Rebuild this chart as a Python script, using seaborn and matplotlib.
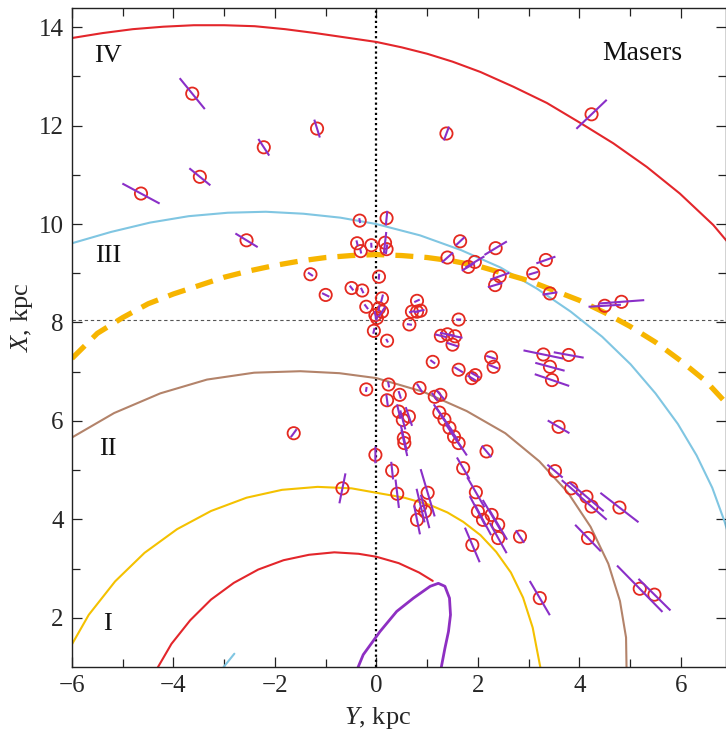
import numpy as np
import pandas as pd
import matplotlib
matplotlib.use("Agg")
import matplotlib.pyplot as plt
from matplotlib.collections import LineCollection
import seaborn as sns

# spiral arm tracings (kpc)
arm4_x = [-6.0, -5.4, -4.8, -4.2, -3.6, -3.0, -2.4, -1.8, -1.2, -0.6, 0.0, 0.5, 1.0, 1.5,
          2.05, 2.7, 3.36, 4.01, 4.67, 5.33, 5.98, 6.64, 6.95]
arm4_y = [13.78, 13.88, 13.96, 14.01, 14.04, 14.04, 14.02, 13.96, 13.88, 13.79, 13.70, 13.59, 13.46, 13.30,
          13.09, 12.79, 12.46, 12.06, 11.64, 11.16, 10.62, 9.98, 9.60]

arm3_x = [-6.0, -5.23, -4.46, -3.70, -2.93, -2.18, -1.44, -0.71, 0.0, 0.86, 1.67, 2.44, 3.16, 3.83,
          4.45, 5.01, 5.50, 5.94, 6.31, 6.62, 6.86, 6.98]
arm3_y = [9.61, 9.84, 10.03, 10.16, 10.23, 10.25, 10.21, 10.13, 10.0, 9.77, 9.47, 9.12, 8.69, 8.22,
          7.71, 7.15, 6.56, 5.94, 5.30, 4.64, 3.96, 3.55]
arm3b_x = [-3.05, -2.8]
arm3b_y = [0.95, 1.27]

local_x = [-6.0, -5.5, -5.0, -4.5, -4.0, -3.5, -3.0, -2.5, -2.0, -1.5, -1.0, -0.5, 0.0, 0.5,
           1.0, 1.5, 2.0, 2.5, 3.0, 3.5, 4.0, 4.5, 5.0, 5.5, 6.0, 6.5, 6.95]
local_y = [7.27, 7.78, 8.1, 8.38, 8.58, 8.75, 8.92, 9.05, 9.16, 9.25, 9.32, 9.36, 9.38, 9.36,
           9.32, 9.25, 9.15, 9.0, 8.85, 8.65, 8.45, 8.2, 7.92, 7.6, 7.22, 6.8, 6.3]

arm2_x = [-6.04, -5.17, -4.26, -3.34, -2.41, -1.50, -0.73, 0.0, 0.93, 1.78, 2.54, 3.21, 3.77,
          4.22, 4.57, 4.80, 4.92, 4.93]
arm2_y = [5.64, 6.16, 6.56, 6.84, 6.98, 7.01, 6.97, 6.87, 6.59, 6.20, 5.75, 5.18, 4.55,
          3.85, 3.10, 2.34, 1.60, 0.96]

arm1_x = [-6.04, -5.67, -5.15, -4.57, -3.93, -3.26, -2.56, -1.86, -1.16, -0.49, 0.0, 0.55, 1.06,
          1.40, 1.71, 2.05, 2.36, 2.65, 2.89, 3.08, 3.22, 3.24]
arm1_y = [1.39, 2.06, 2.74, 3.32, 3.80, 4.17, 4.44, 4.60, 4.66, 4.63, 4.54, 4.44, 4.29,
          4.14, 3.95, 3.68, 3.34, 2.92, 2.41, 1.80, 1.05, 0.95]

inner_x = [-4.31, -4.04, -3.67, -3.26, -2.81, -2.33, -1.83, -1.33, -0.83, -0.35, 0.0, 0.44, 0.84, 1.11]
inner_y = [0.99, 1.47, 1.95, 2.37, 2.71, 2.98, 3.17, 3.28, 3.33, 3.30, 3.24, 3.11, 2.92, 2.75]

bar_x = [-0.38, -0.26, 0.07, 0.40, 0.73, 1.06, 1.22, 1.35, 1.44, 1.46, 1.42, 1.35, 1.27]
bar_y = [0.95, 1.25, 1.72, 2.13, 2.40, 2.64, 2.70, 2.64, 2.40, 2.06, 1.72, 1.38, 0.95]

# masers: position (kpc) and half-length of the distance error along the line of sight
maser_x = [-3.63, -1.17, -2.22, -3.48, -4.64, -2.56, 1.38, 4.24, -1.63, -0.67,
           -0.33, 0.20, -0.38, -0.31, -0.10, 0.17, 0.20, 0.05, -1.30, -1.00,
           -0.49, -0.28, -0.20, 0.11, 0.05, -0.02, 0.11, 0.01, -0.05, 0.21,
           0.80, 0.70, 0.87, 0.80, 0.65, 1.40, 1.65, 1.62, 1.27, 1.40,
           1.55, 1.50, 1.11, 1.94, 1.81, 2.35, 2.43, 2.34, 3.34, 3.09,
           3.42, 4.50, 4.83, 2.26, 2.31, 1.62, 1.88, 1.95, 3.29, 3.79,
           3.42, 3.46, 3.59, -0.20, 0.24, 0.46, 0.21, 0.44, 0.64, 0.52,
           0.54, 0.55, -0.02, 0.31, 0.85, 1.15, 1.26, 1.24, 1.34, 1.44,
           1.53, 1.62, 2.17, 1.71, 1.96, 2.00, 2.10, 2.27, 2.40, 2.40,
           2.83, 1.89, 3.22, 3.52, 3.84, 4.14, 4.24, 4.79, 4.17, 5.19,
           5.48, 0.41, 1.01, 0.87, 0.96, 0.80]
maser_y = [12.65, 11.94, 11.56, 10.96, 10.62, 9.67, 11.84, 12.23, 5.75, 4.63,
           10.07, 10.12, 9.61, 9.45, 9.57, 9.62, 9.49, 8.93, 8.98, 8.56,
           8.70, 8.65, 8.32, 8.49, 8.29, 8.15, 8.22, 8.09, 7.83, 7.63,
           8.44, 8.22, 8.24, 8.22, 7.96, 9.32, 9.65, 8.06, 7.73, 7.76,
           7.72, 7.55, 7.20, 9.23, 9.13, 9.51, 8.94, 8.76, 9.27, 9.00,
           8.59, 8.34, 8.42, 7.29, 7.10, 7.04, 6.87, 6.93, 7.35, 7.34,
           7.10, 6.83, 5.88, 6.64, 6.74, 6.53, 6.42, 6.19, 6.09, 6.02,
           5.65, 5.55, 5.31, 4.99, 6.67, 6.49, 6.53, 6.17, 6.03, 5.86,
           5.68, 5.55, 5.38, 5.04, 4.55, 4.16, 3.99, 4.09, 3.89, 3.62,
           3.65, 3.48, 2.40, 4.98, 4.63, 4.46, 4.26, 4.24, 3.62, 2.59,
           2.47, 4.52, 4.54, 4.28, 4.16, 3.99]
maser_err = [0.40, 0.19, 0.20, 0.27, 0.42, 0.26, 0.15, 0.42, 0.10, 0.31,
             0.05, 0.15, 0.06, 0.05, 0.05, 0.22, 0.10, 0.06, 0.06, 0.08,
             0.06, 0.06, 0.06, 0.08, 0.06, 0.08, 0.12, 0.05, 0.06, 0.04,
             0.06, 0.06, 0.08, 0.06, 0.05, 0.15, 0.12, 0.05, 0.12, 0.15,
             0.15, 0.12, 0.06, 0.22, 0.15, 0.26, 0.20, 0.15, 0.20, 0.10,
             0.15, 0.32, 0.45, 0.10, 0.10, 0.10, 0.10, 0.10, 0.40, 0.30,
             0.30, 0.36, 0.25, 0.05, 0.06, 0.08, 0.12, 0.15, 0.20, 0.20,
             0.27, 0.27, 0.17, 0.18, 0.10, 0.10, 0.12, 0.20, 0.30, 0.30,
             0.30, 0.30, 0.15, 0.25, 0.35, 0.35, 0.35, 0.35, 0.35, 0.35,
             0.15, 0.38, 0.40, 0.20, 0.25, 0.45, 0.40, 0.48, 0.37, 0.65,
             0.45, 0.29, 0.50, 0.35, 0.35, 0.30]

sun_y = 8.05

sns.set_style("ticks")
plt.rcParams["font.family"] = ["Liberation Serif", "DejaVu Serif"]
plt.rcParams["mathtext.fontset"] = "custom"
plt.rcParams["mathtext.rm"] = "Liberation Serif"
plt.rcParams["mathtext.it"] = "Liberation Serif:italic"
plt.rcParams["xtick.direction"] = "in"
plt.rcParams["ytick.direction"] = "in"

fig = plt.figure(figsize=(7.26, 7.31), dpi=100)
ax = fig.add_axes([72 / 726, 64 / 731, 654 / 726, 659 / 731])

ax.axvline(0, color="black", lw=1.6, ls=(0, (1.0, 1.3)), zorder=1)
ax.axhline(sun_y, color="#555555", lw=0.8, ls=(0, (3, 2.5)), zorder=1)

curves = [
    (arm4_x, arm4_y, "#e3262b", 1.5),
    (arm3_x, arm3_y, "#80c6e2", 1.5),
    (arm3b_x, arm3b_y, "#80c6e2", 1.5),
    (arm2_x, arm2_y, "#b3836a", 1.5),
    (arm1_x, arm1_y, "#f4c100", 1.5),
    (inner_x, inner_y, "#e3262b", 1.5),
    (bar_x, bar_y, "#8e2fc2", 2.0),
]
for cx, cy, col, lw in curves:
    sns.lineplot(x=cx, y=cy, sort=False, estimator=None, color=col, lw=lw, ax=ax, zorder=2)

sns.lineplot(x=local_x, y=local_y, sort=False, estimator=None, color="#f7b500", lw=3.8, ax=ax, zorder=2)
ax.lines[-1].set_dashes((3.4, 2.1))

masers = pd.DataFrame({"x": maser_x, "y": maser_y, "err": maser_err})
sns.scatterplot(data=masers, x="x", y="y", marker="o", s=78, facecolor="none",
                edgecolor="#e4291f", linewidth=1.3, ax=ax, zorder=3)

# error segments along the line of sight from the Sun
dx = masers["x"].to_numpy()
dy = masers["y"].to_numpy() - sun_y
d = np.hypot(dx, dy)
ux, uy = dx / d, dy / d
e = masers["err"].to_numpy()
segs = [[(x - ex * a, y - ex * b), (x + ex * a, y + ex * b)]
        for x, y, ex, a, b in zip(masers["x"], masers["y"], e, ux, uy)]
ax.add_collection(LineCollection(segs, colors="#8a2fc8", linewidths=1.5, zorder=4))

ax.set_xlim(-6, 6.89)
ax.set_ylim(1.0, 14.39)
ax.set_xticks([-6, -4, -2, 0, 2, 4, 6])
ax.set_yticks([2, 4, 6, 8, 10, 12, 14])
ax.set_xticks(np.arange(-5, 7, 2), minor=True)
ax.set_yticks(np.arange(3, 15, 2), minor=True)
ax.set_xticklabels(["\u22126", "\u22124", "\u22122", "0", "2", "4", "6"])
ax.tick_params(which="both", top=True, right=True, direction="in", width=0.9,
               labelsize=18, color="#222222")
ax.tick_params(which="major", length=7, pad=6)
ax.tick_params(which="minor", length=6)
for s in ax.spines.values():
    s.set_linewidth(1.0)
    s.set_color("#222222")

ax.set_xlabel("$Y$, kpc", fontsize=19)
ax.set_ylabel("$X$, kpc", fontsize=19)
ax.xaxis.set_label_coords(0.468, -0.058)
ax.yaxis.set_label_coords(-0.056, 0.53)

for txt, tx, ty in [("IV", -5.30, 13.41), ("III", -5.29, 9.35), ("II", -5.29, 5.43), ("I", -5.31, 1.88)]:
    ax.text(tx, ty, txt, fontsize=19, ha="center", va="center", color="#111111")
ax.text(5.23, 13.47, "Masers", fontsize=20, ha="center", va="center", color="#111111")

fig.savefig("out.png", dpi=100)
